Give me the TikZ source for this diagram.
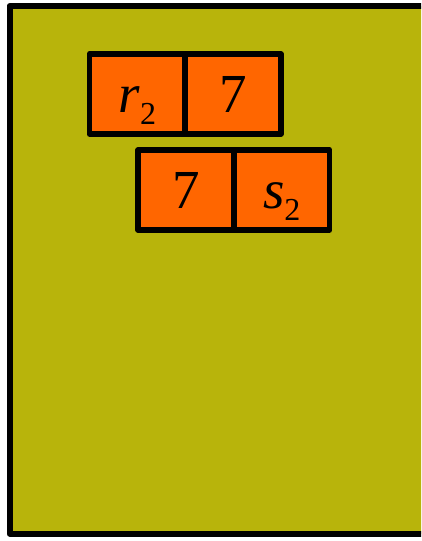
\documentclass[tikz,border=0pt]{standalone}
\usepackage{fontspec}
\setmainfont{Liberation Serif}
\definecolor{olivebg}{HTML}{B8B40B}
\definecolor{cellor}{HTML}{FF6600}
\newcommand{\subtwo}{\smash{\raisebox{-12pt}{\fontsize{32}{32}\selectfont 2}}}
\begin{document}
\begin{tikzpicture}[x=1pt,y=-1pt,
  cell/.style={draw=black, fill=cellor, line width=5.7pt, line join=round,
    rectangle, inner sep=0pt, minimum width=96pt, minimum height=80pt,
    font=\fontsize{55}{55}\selectfont, text height=37.5pt, text depth=0pt}]
\clip (0,0) rectangle (421,541);
\fill[white] (0,0) rectangle (421,541);
\draw[line width=6pt, line join=round, fill=olivebg] (9.5,6) rectangle (450,533.5);
\node[cell, minimum width=95.5pt] (a) at (137.25,94) {\textit{r}\subtwo};
\node[cell] (b) at (233,94) {7};
\node[cell] (c) at (186,190) {7};
\node[cell, minimum width=95.5pt] (d) at (281.75,190) {\textit{s}\subtwo};
\end{tikzpicture}
\end{document}
